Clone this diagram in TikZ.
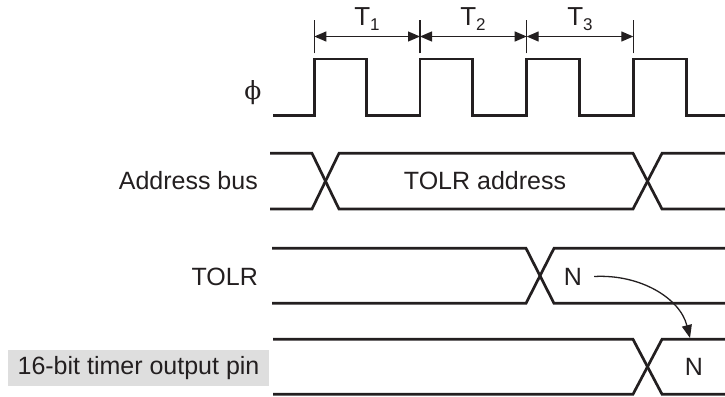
\documentclass[tikz,border=0pt]{standalone}
\usepackage{fontspec}
\setmainfont{Liberation Sans}
\newfontfamily\phifont{DejaVu Serif}
\usetikzlibrary{arrows.meta}
\definecolor{ink}{HTML}{231F20}
\definecolor{boxgray}{HTML}{DEDEDE}
\tikzset{
  sig/.style={draw=ink, line width=2.7pt, line join=miter, line cap=butt},
  dimline/.style={draw=ink, line width=1.3pt},
  dimarrow/.style={dimline, {Triangle[length=12pt,width=10pt]}-{Triangle[length=12pt,width=10pt]}},
  lbl/.style={text=ink, inner sep=0pt, font=\fontsize{25}{30}\selectfont},
  sublbl/.style={text=ink, inner sep=0pt, font=\fontsize{26}{30}\selectfont},
}
\newcommand{\subdigit}[1]{\raisebox{-5pt}{\fontsize{17}{17}\selectfont #1}}
\begin{document}
\begin{tikzpicture}[x=1pt,y=-1pt]
\useasboundingbox (0,0) rectangle (725,396);

% ---- clock phi
\draw[sig] (273,115.5) -- (314.3,115.5) -- (314.3,59) -- (366.7,59) -- (366.7,115.5)
  -- (420,115.5) -- (420,59) -- (472.7,59) -- (472.7,115.5)
  -- (526.7,115.5) -- (526.7,59) -- (579.3,59) -- (579.3,115.5)
  -- (633.3,115.5) -- (633.3,59) -- (686.7,59) -- (686.7,115.5) -- (727,115.5);
\node[text=ink, inner sep=0pt, font=\phifont\fontsize{25}{28}\selectfont] (phi) at (253,93) {ϕ};

% ---- T1..T3 dimensioning
\coordinate (k0) at (314.3,36.5);
\coordinate (k1) at (420,36.5);
\coordinate (k2) at (526.7,36.5);
\coordinate (k3) at (633.3,36.5);
\foreach \k in {k0,k1,k2,k3}{
  \draw[dimline] ([yshift=-17pt]\k) -- ([yshift=16pt]\k);
}
\draw[dimarrow] (k0) -- (k1);
\draw[dimarrow] (k1) -- (k2);
\draw[dimarrow] (k2) -- (k3);
\node[sublbl, anchor=base] (t1) at (367,26) {T\subdigit{1}};
\node[sublbl, anchor=base] (t2) at (473,26) {T\subdigit{2}};
\node[sublbl, anchor=base] (t3) at (580,26) {T\subdigit{3}};

% ---- Address bus
\draw[sig] (270,153.3) -- (312,153.3) -- (339,209) -- (633,209) -- (662,153.3) -- (727,153.3);
\draw[sig] (270,209) -- (312,209) -- (339,153.3) -- (633,153.3) -- (662,209) -- (727,209);
\node[lbl, anchor=east] (abus) at (258,181) {Address bus};
\node[lbl] (aval) at (485,181) {TOLR address};

% ---- TOLR
\draw[sig] (272,303.3) -- (526,303.3) -- (554,248.3) -- (727,248.3);
\draw[sig] (272,248.3) -- (526,248.3) -- (554,303.3) -- (727,303.3);
\node[lbl, anchor=east] (tolr) at (258,277) {TOLR};
\node[lbl] (nt) at (573,276.5) {N};

% ---- 16-bit timer output pin
\draw[sig] (273,394.2) -- (633,394.2) -- (662,339.3) -- (727,339.3);
\draw[sig] (273,339.3) -- (633,339.3) -- (662,394.2) -- (727,394.2);
\node[lbl, fill=boxgray, minimum width=261pt, minimum height=36pt] (pin) at (138.5,368) {16-bit timer output pin};
\node[lbl] (np) at (694,367) {N};

% ---- curved arrow N -> N
\coordinate (arrtip) at (690,338);
\draw[draw=ink, line width=1.3pt, -{Triangle[length=13pt,width=10pt]}]
  ([xshift=12pt]nt.east) .. controls (640,274) and (680,298) .. (arrtip);
\end{tikzpicture}
\end{document}
